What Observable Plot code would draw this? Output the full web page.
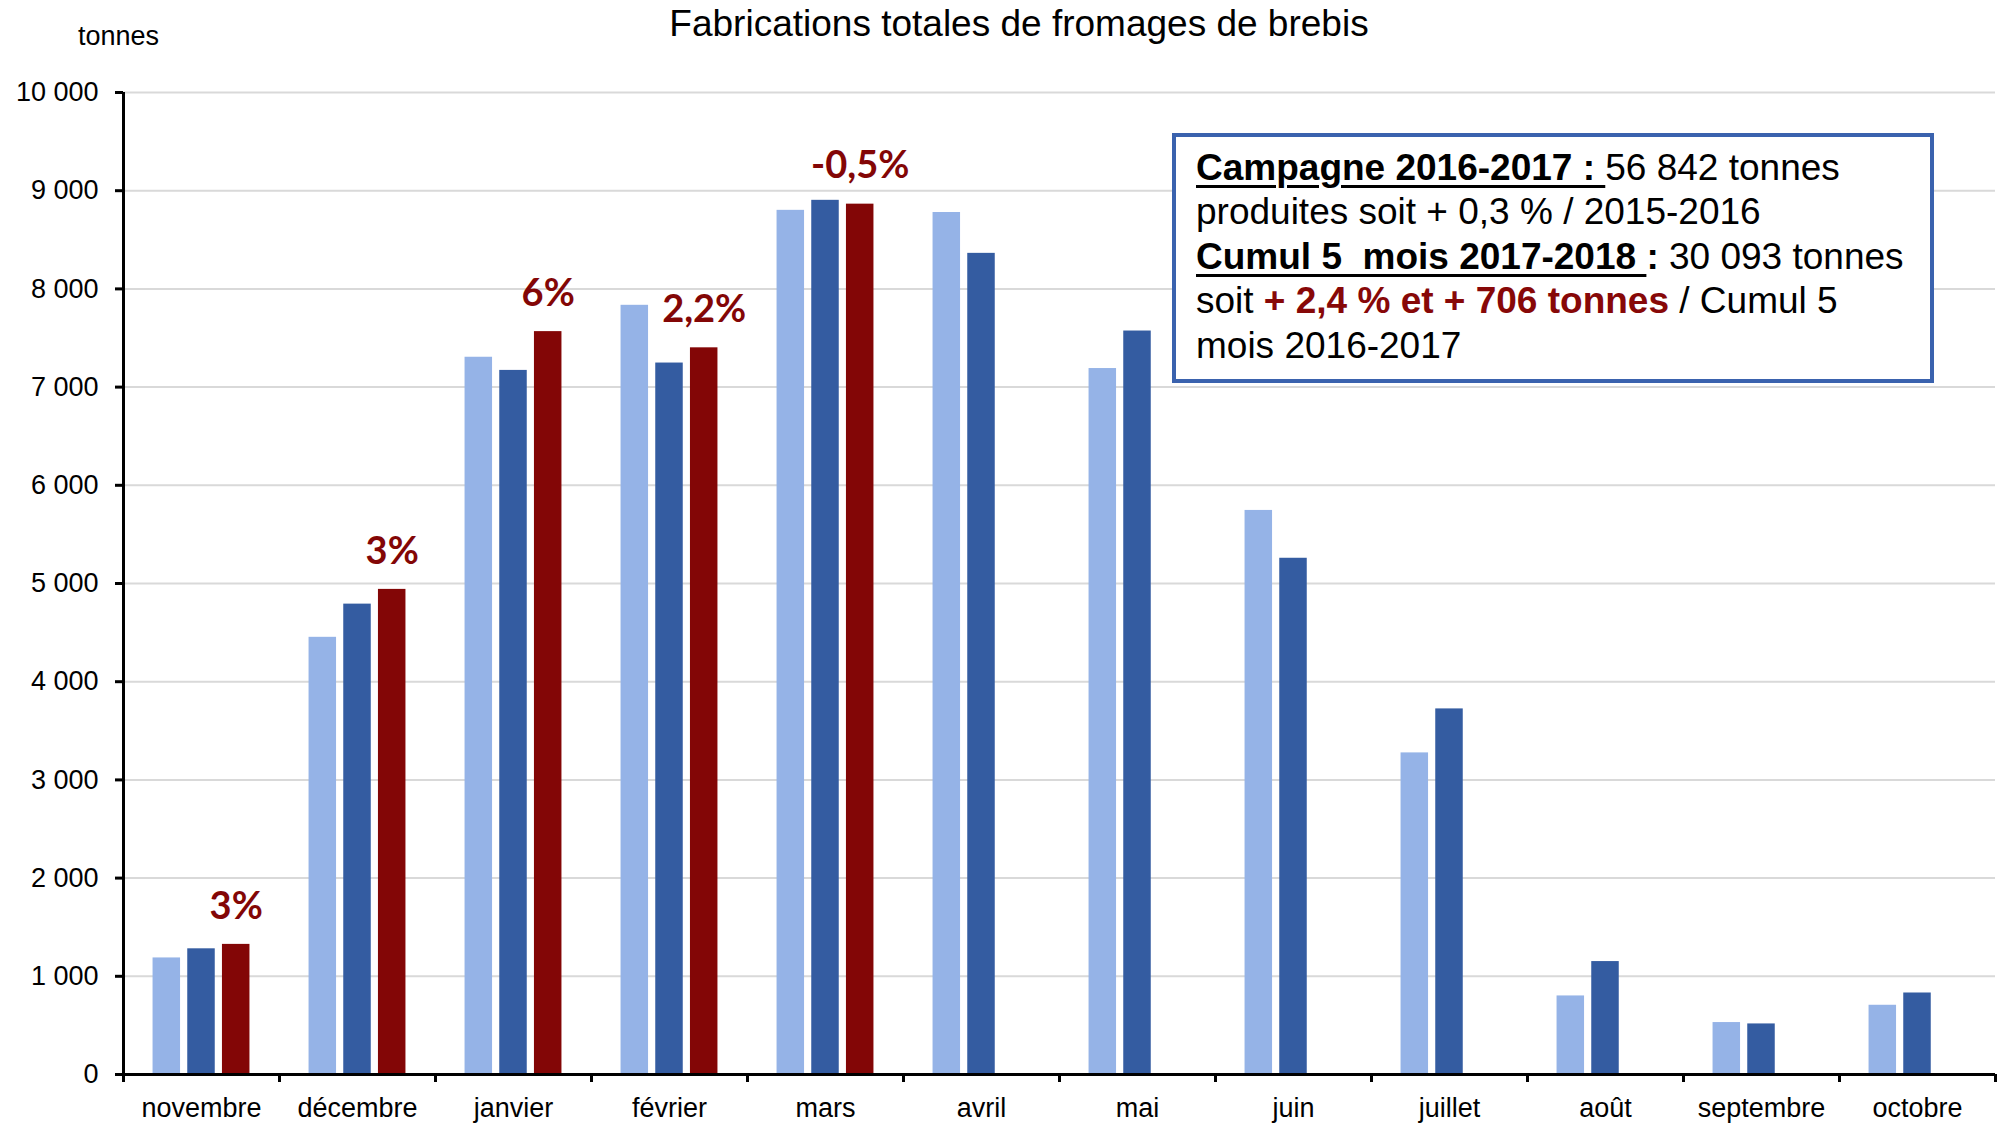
<!DOCTYPE html>
<html>
<head>
<meta charset="utf-8">
<script src="https://cdn.jsdelivr.net/npm/d3@7"></script>
<script src="https://cdn.jsdelivr.net/npm/@observablehq/plot@0.6"></script>
<style>
  html, body { margin: 0; padding: 0; background: #fff; }
  #wrap { position: relative; width: 2004px; height: 1124px; font-family: "Liberation Sans", Arial, sans-serif; color: #000; }
  #title { position: absolute; left: 1019px; top: 5px; transform: translateX(-50%); font-size: 37px; line-height: 37px; white-space: nowrap; }
  #unit { position: absolute; left: 78px; top: 23px; font-size: 27px; line-height: 27px; white-space: nowrap; }
  #box { position: absolute; left: 1172px; top: 133px; width: 762px; height: 250px; box-sizing: border-box;
         border: 4px solid #3a62ae; background: #fff; padding: 8.5px 0 0 20px; font-size: 37px; line-height: 44.5px; white-space: nowrap; }
  #box b { font-weight: bold; }
  #box u { text-decoration: underline; text-decoration-thickness: 2.5px; text-underline-offset: 5px; }
  #box .red { color: #870808; font-weight: bold; }
  #chart { position: absolute; left: 0; top: 0; }
</style>
</head>
<body>
<div id="wrap">
  <div id="chart"></div>
  <div id="title">Fabrications totales de fromages de brebis</div>
  <div id="unit">tonnes</div>
  <div id="box"><b><u>Campagne 2016-2017 :&nbsp;</u></b>56 842 tonnes<br>produites soit + 0,3 % / 2015-2016<br><b><u>Cumul 5&nbsp; mois 2017-2018&nbsp;</u>:</b> 30 093 tonnes<br>soit <span class="red">+ 2,4 % et + 706 tonnes</span> / Cumul 5<br>mois 2016-2017</div>
</div>
<script>
// ---- data ----
const months = ["novembre", "décembre", "janvier", "février", "mars", "avril", "mai", "juin", "juillet", "août", "septembre", "octobre"];
const series = ["2015-2016", "2016-2017", "2017-2018"];
const values2015_2016 = [1187, 4452, 7304, 7833, 8800, 8778, 7189, 5744, 3275, 800, 529, 705];
const values2016_2017 = [1280, 4790, 7170, 7245, 8902, 8362, 7571, 5257, 3723, 1150, 515, 830];
const values2017_2018 = [1325, 4940, 7565, 7400, 8863];
const labels2017_2018 = ["3%", "3%", "6%", "2,2%", "-0,5%"];
const yTicks = [0, 1000, 2000, 3000, 4000, 5000, 6000, 7000, 8000, 9000, 10000];
const colors = ["#95b3e7", "#345ca1", "#830606"];

const allValues = [values2015_2016, values2016_2017, values2017_2018];
const rows = [];
allValues.forEach((vals, s) => vals.forEach((v, i) => rows.push({month: months[i], idx: i, series: series[s], value: v, label: s === 2 ? labels2017_2018[i] : null})));

// ---- layout ----
const W = 2004, H = 1124, ML = 123, MR = 9, MT = 92, MB = 50;
const bw = (W - ML - MR) / months.length;   // month band width in px
const barW = 27.5, step = 34.7;
const side = (bw - barW) / 2;

const fmt = d => d3.format(",")(d).replace(/,/g, " ");

const barMarks = series.map((s, i) => {
  const o = (i - 1) * step;
  return Plot.rectY(rows.filter(r => r.series === s), {
    x1: "idx", x2: d => d.idx + 1, y: "value", fill: "series",
    insetLeft: side + o, insetRight: side - o
  });
});

const chart = Plot.plot({
  width: W, height: H,
  marginLeft: ML, marginRight: MR, marginTop: MT, marginBottom: MB,
  style: {fontFamily: "Liberation Sans, Arial, sans-serif", fontSize: "27px", color: "#000", background: "transparent", overflow: "visible"},
  x: {type: "linear", domain: [0, months.length]},
  y: {domain: [0, 10000]},
  color: {domain: series, range: colors},
  marks: [
    Plot.gridY({ticks: yTicks.slice(1), stroke: "#d9d9d9", strokeOpacity: 1, strokeWidth: 2}),
    ...barMarks,
    Plot.text(rows.filter(r => r.label), {
      x: d => d.idx + 0.5, y: "value", text: "label", dx: step, dy: -38,
      fill: "#830606", fontSize: 38, fontWeight: "bold", fontFamily: "Lato, sans-serif"
    }),
    Plot.ruleY([0], {strokeWidth: 3}),
    Plot.ruleX([0], {strokeWidth: 3}),
    Plot.axisY({ticks: yTicks, tickSize: 8, tickPadding: 17, tickFormat: fmt, strokeWidth: 3, fontSize: 27, label: null}),
    Plot.axisX({ticks: d3.range(months.length + 1), tickSize: 8, tickFormat: () => "", strokeWidth: 3, label: null}),
    Plot.axisX({ticks: months.map((m, i) => i + 0.5), tickSize: 0, tickPadding: 23.5, tickFormat: v => months[Math.floor(v)], fontSize: 27, label: null})
  ]
});
document.getElementById("chart").appendChild(chart);
</script>
</body>
</html>
